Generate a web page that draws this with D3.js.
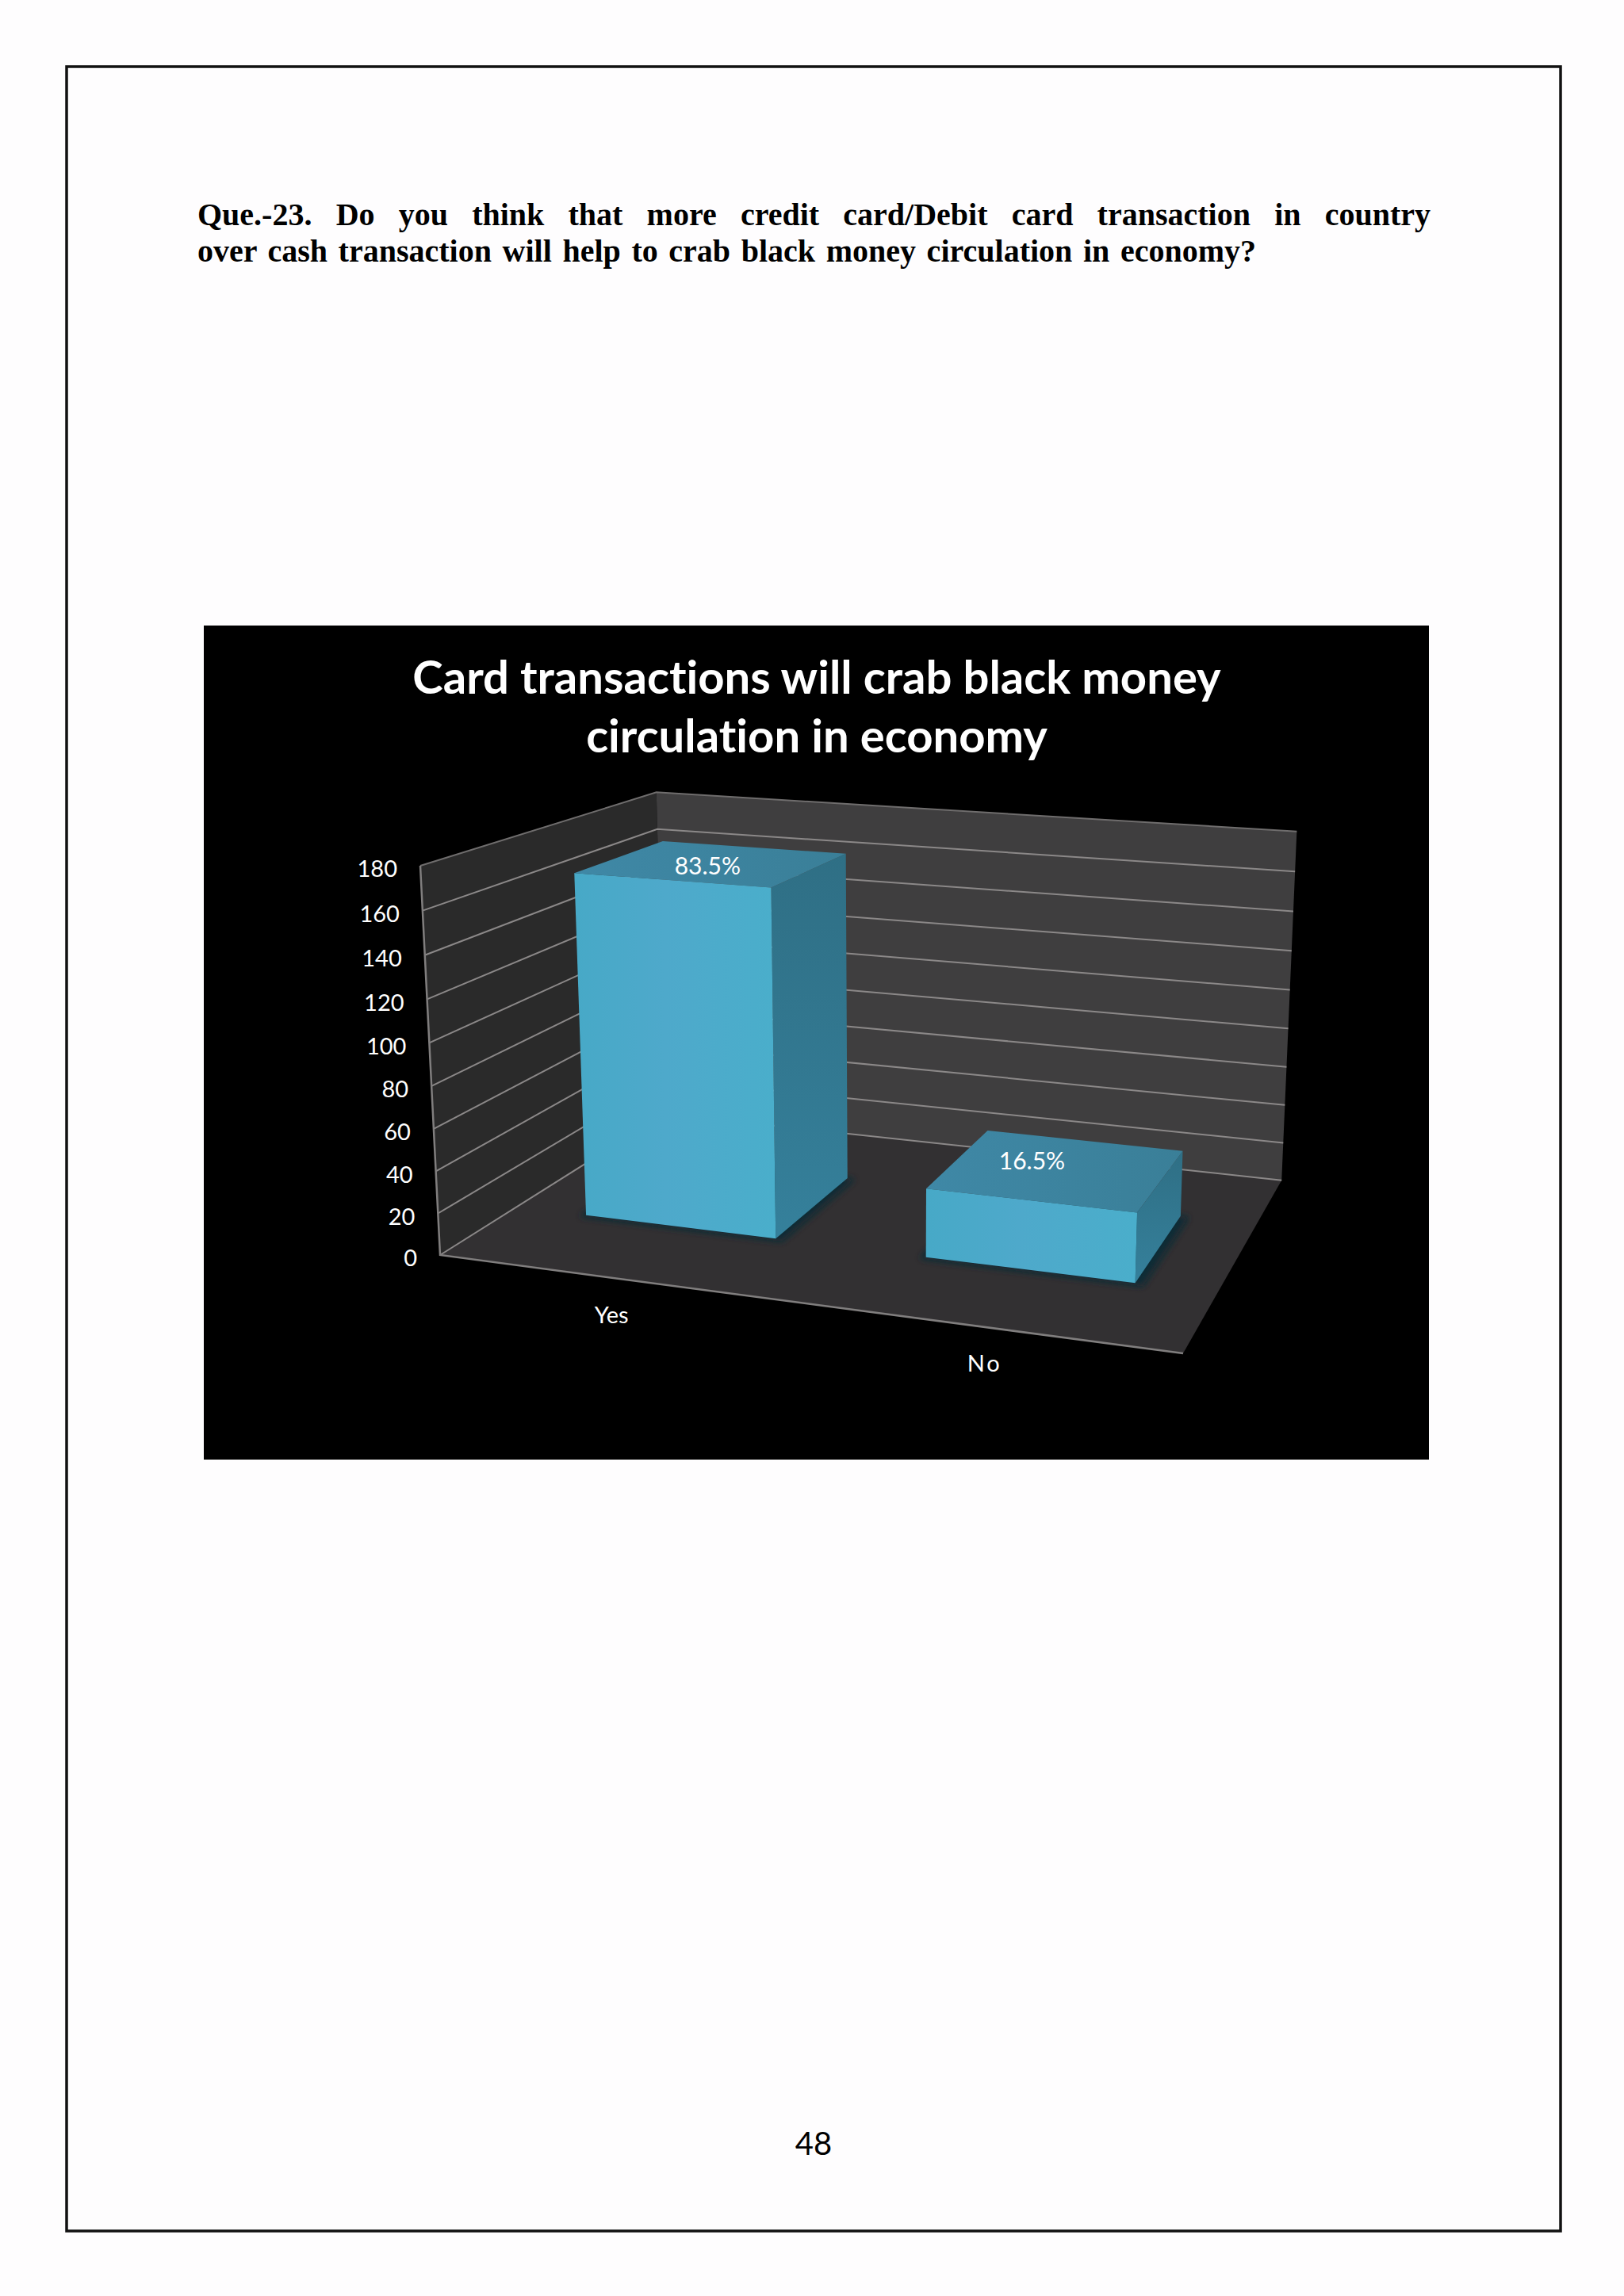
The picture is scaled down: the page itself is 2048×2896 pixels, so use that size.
<!DOCTYPE html>
<html>
<head>
<meta charset="utf-8">
<title>Que.-23</title>
<script src="https://cdn.jsdelivr.net/npm/d3@7"></script>
<style>
  html, body { margin: 0; padding: 0; background: #fefdfe; }
  svg { display: block; }
  text { font-variant-ligatures: none; }
</style>
</head>
<body>
<div id="page"></div>
<script>
// --- Data (counts out of 200 respondents) ---
const categories = ["Yes", "No"];
const counts = [167, 33];
const percentLabels = ["83.5%", "16.5%"];
const yTicks = [0, 20, 40, 60, 80, 100, 120, 140, 160, 180];

const questionLines = [
  "Que.-23. Do you think that more credit card/Debit card transaction in country",
  "over cash transaction will help to crab black money circulation in economy?"
];
const titleLines = [
  "Card transactions will crab black money",
  "circulation in economy"
];
const pageNumber = "48";

// --- Page ---
const svg = d3.select("#page")
  .append("svg")
  .attr("width", 2048)
  .attr("height", 2896)
  .attr("viewBox", "0 0 2048 2896");

svg.append("rect")
  .attr("x", 84).attr("y", 84)
  .attr("width", 1884).attr("height", 2730)
  .attr("fill", "none")
  .attr("stroke", "#111")
  .attr("stroke-width", 3.5);

const question = svg.selectAll("text.question")
  .data(questionLines)
  .join("text")
  .attr("class", "question")
  .attr("x", 249)
  .attr("y", (d, i) => 284 + i * 46)
  .style("font-family", "'Liberation Serif', serif")
  .style("font-weight", "bold")
  .style("font-size", "40px")
  .style("fill", "#000")
  .text(d => d);

// justify each line to the width it has in the scan
const lineRight = [1804, 1584];
question.each(function (d, i) {
  const w = this.getComputedTextLength();
  const gaps = d.split(" ").length - 1;
  d3.select(this).style("word-spacing", `${(lineRight[i] - 249 - w) / gaps}px`);
});

svg.append("text")
  .attr("x", 1026).attr("y", 2718)
  .attr("text-anchor", "middle")
  .style("font-family", "Lato, sans-serif")
  .style("font-size", "40px")
  .style("fill", "#000")
  .text(pageNumber);

// --- Chart panel ---
svg.append("rect")
  .attr("x", 257).attr("y", 789)
  .attr("width", 1545).attr("height", 1052)
  .attr("fill", "#000");

svg.selectAll("text.title")
  .data(titleLines)
  .join("text")
  .attr("class", "title")
  .attr("x", 1030)
  .attr("y", (d, i) => 875 + i * 74)
  .attr("text-anchor", "middle")
  .style("font-family", "Lato, sans-serif")
  .style("font-weight", "bold")
  .style("font-size", "58px")
  .style("fill", "#fff")
  .text(d => d);

// --- Scales: chart space, each axis 0..1 ---
const xScale = d3.scaleBand()
  .domain(categories)
  .range([0, 1])
  .paddingInner(0.43)
  .paddingOuter(0.215);

const yScale = d3.scaleLinear()
  .domain([0, 180])
  .range([0, 1]);

const zBand = [0.3, 0.7]; // depth the bars take up on the floor

// --- Perspective: chart space (x, y, z) to page pixels ---
const origin = [555, 1583];  // front left, floor
const endX = [1492, 1707];   // front right, floor
const endY = [530, 1092];    // front left, top
const endZ = [838, 1405];    // back left, floor
const persp = { x: -0.10, y: -0.042, z: 0.22 };

const axisVec = (end, k) => [end[0] * (1 + k) - origin[0], end[1] * (1 + k) - origin[1]];
const ax = axisVec(endX, persp.x);
const ay = axisVec(endY, persp.y);
const az = axisVec(endZ, persp.z);

const project = (x, y, z) => {
  const w = 1 + persp.x * x + persp.y * y + persp.z * z;
  return [
    (origin[0] + ax[0] * x + ay[0] * y + az[0] * z) / w,
    (origin[1] + ax[1] * x + ay[1] * y + az[1] * z) / w
  ];
};

const poly = d3.line();
const face = (pts) => poly(pts.map(p => project(...p))) + "Z";

// --- Gradients and shadow ---
const defs = svg.append("defs");

const addGradient = (id, x2, y2, stops) => {
  const g = defs.append("linearGradient")
    .attr("id", id)
    .attr("x1", 0).attr("y1", 0)
    .attr("x2", x2).attr("y2", y2);
  stops.forEach(s => g.append("stop").attr("offset", s[0]).attr("stop-color", s[1]));
};
addGradient("frontFill", 1, 0, [[0, "#47a9c7"], [0.45, "#4ea9cb"], [1, "#4aaecb"]]);
addGradient("sideFill", 0, 1, [[0, "#2f6f85"], [1, "#35809b"]]);
addGradient("topFill", 1, 0, [[0, "#3f88a6"], [1, "#3a7f98"]]);

defs.append("filter")
  .attr("id", "floorShadow")
  .attr("x", "-20%").attr("y", "-20%")
  .attr("width", "140%").attr("height", "140%")
  .append("feGaussianBlur")
  .attr("stdDeviation", 4);

// --- Walls and floor ---
const chart = svg.append("g");

chart.append("path") // left wall
  .attr("d", face([[0, 0, 0], [0, 1, 0], [0, 1, 1], [0, 0, 1]]))
  .attr("fill", "#2a2a2a");

chart.append("path") // back wall
  .attr("d", face([[0, 0, 1], [0, 1, 1], [1, 1, 1], [1, 0, 1]]))
  .attr("fill", "#3f3e3f");

chart.append("path") // floor
  .attr("d", face([[0, 0, 0], [1, 0, 0], [1, 0, 1], [0, 0, 1]]))
  .attr("fill", "#323032");

// Gridlines run along the left wall and then the back wall
chart.selectAll("path.grid")
  .data(yTicks)
  .join("path")
  .attr("class", "grid")
  .attr("d", d => poly([
    project(0, yScale(d), 0),
    project(0, yScale(d), 1),
    project(1, yScale(d), 1)
  ]))
  .attr("fill", "none")
  .attr("stroke", d => d === 180 ? "#6f6d6d" : "#8b8888")
  .attr("stroke-width", 2);

// Front edges of the left wall and the floor
chart.append("path")
  .attr("d", poly([project(0, 1, 0), project(0, 0, 0), project(1, 0, 0)]))
  .attr("fill", "none")
  .attr("stroke", "#807e7e")
  .attr("stroke-width", 2.5);

// --- Bars, with a soft shadow where they meet the floor ---
const barRows = categories.map((c, i) => ({
  category: c,
  count: counts[i],
  label: percentLabels[i],
  x0: xScale(c),
  x1: xScale(c) + xScale.bandwidth(),
  h: yScale(counts[i])
}));

const bars = chart.selectAll("g.bar")
  .data(barRows)
  .join("g")
  .attr("class", "bar");

bars.append("path")
  .attr("d", d => face([
    [d.x0 - 0.006, 0, zBand[0] - 0.012],
    [d.x1 + 0.012, 0, zBand[0] - 0.012],
    [d.x1 + 0.012, 0, zBand[1]],
    [d.x0 - 0.006, 0, zBand[1]]
  ]))
  .attr("fill", "#0b2a36")
  .attr("filter", "url(#floorShadow)");

bars.append("path") // right side
  .attr("d", d => face([
    [d.x1, 0, zBand[0]], [d.x1, d.h, zBand[0]],
    [d.x1, d.h, zBand[1]], [d.x1, 0, zBand[1]]
  ]))
  .attr("fill", "url(#sideFill)");

bars.append("path") // top
  .attr("d", d => face([
    [d.x0, d.h, zBand[0]], [d.x1, d.h, zBand[0]],
    [d.x1, d.h, zBand[1]], [d.x0, d.h, zBand[1]]
  ]))
  .attr("fill", "url(#topFill)");

bars.append("path") // front
  .attr("d", d => face([
    [d.x0, 0, zBand[0]], [d.x0, d.h, zBand[0]],
    [d.x1, d.h, zBand[0]], [d.x1, 0, zBand[0]]
  ]))
  .attr("fill", "url(#frontFill)");

// Percent labels sit on the bar tops
const labelNudge = [[-8, 14], [-33, 0]];
bars.append("text")
  .attr("x", (d, i) => project((d.x0 + d.x1) / 2, d.h, 0.5)[0] + labelNudge[i][0])
  .attr("y", (d, i) => project((d.x0 + d.x1) / 2, d.h, 0.5)[1] + labelNudge[i][1])
  .attr("text-anchor", "middle")
  .style("font-family", "Lato, sans-serif")
  .style("font-size", "30px")
  .style("fill", "#fff")
  .text(d => d.label);

// --- Axis labels ---
chart.selectAll("text.ytick")
  .data(yTicks)
  .join("text")
  .attr("class", "ytick")
  .attr("x", d => project(0, yScale(d), 0)[0] - 29)
  .attr("y", d => project(0, yScale(d), 0)[1] + 4)
  .attr("dy", "0.35em")
  .attr("text-anchor", "end")
  .style("font-family", "Lato, sans-serif")
  .style("font-size", "29px")
  .style("fill", "#fff")
  .text(d => d);

chart.selectAll("text.xtick")
  .data(categories)
  .join("text")
  .attr("class", "xtick")
  .attr("x", d => project(xScale(d) + xScale.bandwidth() / 2, 0, 0)[0] + (d === "No" ? 3 : 0))
  .attr("y", d => project(xScale(d) + xScale.bandwidth() / 2, 0, 0)[1] + 57)
  .attr("text-anchor", "middle")
  .style("font-family", "Lato, sans-serif")
  .style("font-size", "29px")
  .style("letter-spacing", d => d === "No" ? "3px" : "0")
  .style("fill", "#fff")
  .text(d => d);
</script>
</body>
</html>
